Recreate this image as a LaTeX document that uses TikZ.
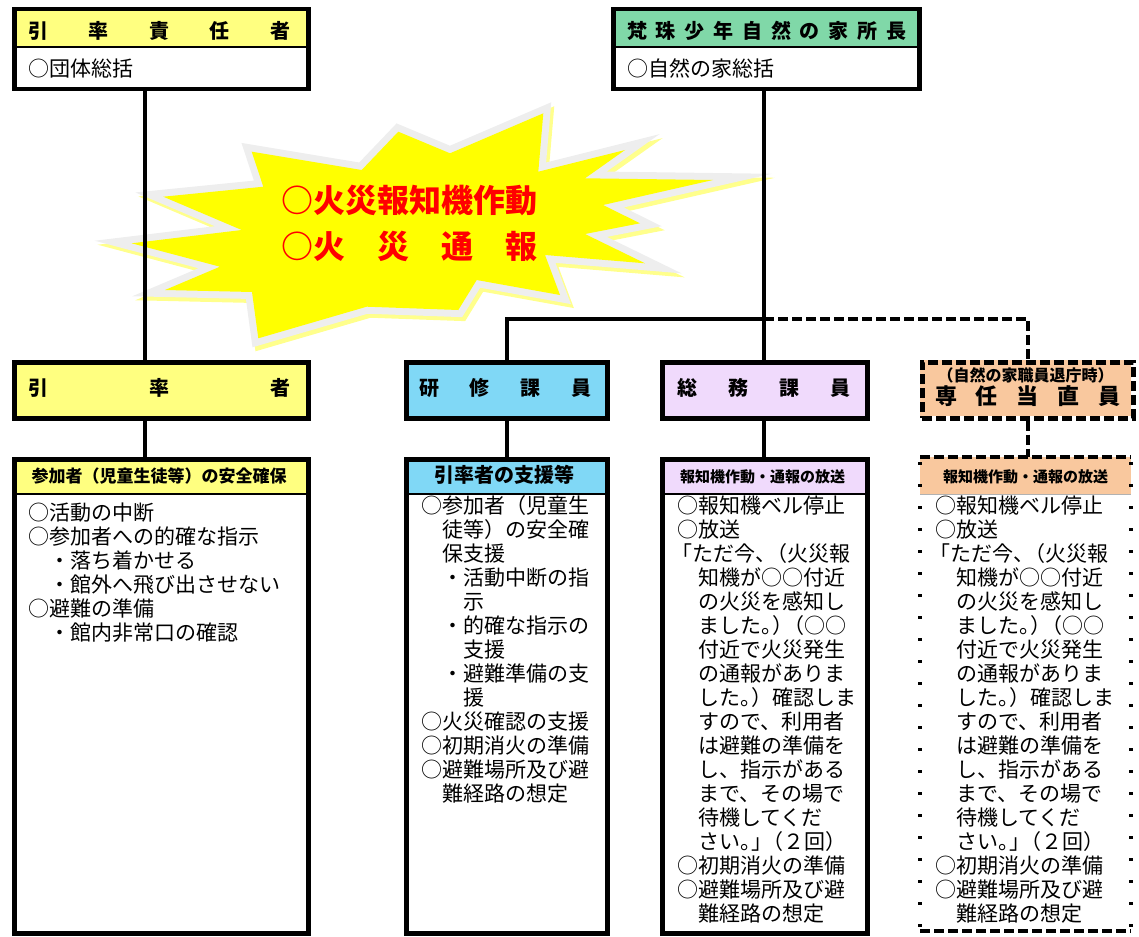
\documentclass[tikz,border=0pt]{standalone}
\usepackage{fontspec}
\setmainfont{Noto Sans CJK JP}
\definecolor{hdyellow}{RGB}{255,255,128}
\definecolor{hdgreen}{RGB}{128,216,168}
\definecolor{hdblue}{RGB}{128,216,246}
\definecolor{hdlav}{RGB}{240,218,252}
\definecolor{hdpeach}{RGB}{249,200,158}
\definecolor{stargray}{RGB}{238,238,238}
\definecolor{staryel}{RGB}{255,255,0}
\definecolor{shadowyel}{RGB}{255,255,140}
\definecolor{firered}{RGB}{255,0,0}
\newcommand{\mybody}[1]{\parbox[t]{300pt}{\raggedright #1}}
\newcommand{\hf}{\hfill{}}
\newcommand{\hk}{\kern-10pt{}}
\tikzset{
  box/.style={draw=black, line width=4.5pt, inner sep=0pt, anchor=north west},
  dbox/.style={draw=black, line width=4.5pt, dash pattern=on 10pt off 4pt, inner sep=0pt, anchor=north west},
  openbox/.style={inner sep=0pt, outer sep=2.25pt, anchor=north west},
  conn/.style={draw=black, line width=4pt, line join=miter},
  dconn/.style={conn, dash pattern=on 10pt off 4pt},
  sep/.style={draw=black, line width=1.2pt},
  lbl/.style={anchor=base west, inner sep=0pt},
  clbl/.style={anchor=base, inner sep=0pt},
  body/.style={anchor=base west, inner sep=0pt, font=\fontsize{21}{24}\selectfont},
  starpts/.style={insert path={(251.7,151.7) -- (361.7,170) -- (398.3,131.7) -- (450,153.3) -- (543.3,113.3) -- (538.3,171.7) -- (625,150) -- (585,178.3) -- (713,180) -- (603,205) -- (640,223.3) -- (585,234) -- (645,263.3) -- (545,255) -- (560,295) -- (476.7,280) -- (458.3,310) -- (366.7,306.7) -- (258.3,338.3) -- (252,292) -- (165,290) -- (220,266.7) -- (131.7,243.3) -- (241.7,230) -- (163.3,196.7) -- (263.3,186.7) -- cycle}},
}
\begin{document}
\begin{tikzpicture}[x=1pt,y=-1pt]
\useasboundingbox (0,0) rectangle (1139,936);
% ---- starburst
\path[draw=shadowyel, fill=shadowyel, line width=14pt, shift={(3,4)}, starpts];
\path[draw=stargray, line width=14pt, line join=miter, starpts];
\path[fill=staryel, starpts];
\node[lbl, font=\fontsize{32}{40}\bfseries, text=firered] (alarm1) at (281.7,212) {○火災報知機作動};
\node[lbl, font=\fontsize{32}{40}\bfseries, text=firered] (alarm2) at (281.7,258.5) {○火　災　通　報};
% ---- header fills
\fill[hdyellow] (12,7) rectangle (306,47);
\fill[hdgreen] (611,7) rectangle (917,47);
\fill[hdyellow] (12,360) rectangle (306,416);
\fill[hdblue] (404,360) rectangle (605,416);
\fill[hdlav] (660,360) rectangle (865,416);
\fill[hdpeach] (920,360) rectangle (1131,416);
\fill[hdyellow] (12,457) rectangle (306,494);
\fill[hdblue] (404,457) rectangle (605,494);
\fill[hdlav] (660,457) rectangle (865,494);
\fill[hdpeach] (920,457) rectangle (1131,494);
% ---- separators
\draw[sep] (12,47) -- (306,47);
\draw[sep] (611,47) -- (917,47);
\draw[sep] (12,494) -- (306,494);
\draw[sep] (404,494) -- (605,494);
\draw[sep] (660,494) -- (865,494);
\draw[draw=gray!60, line width=1pt] (920,494) -- (1131,494);
% ---- boxes
\node[box, minimum width=294pt, minimum height=80pt] (tl) at (12,7) {};
\node[box, minimum width=306pt, minimum height=80pt] (tr) at (611,7) {};
\node[box, minimum width=294pt, minimum height=56pt] (m1) at (12,360) {};
\node[box, minimum width=201pt, minimum height=56pt] (m2) at (404,360) {};
\node[box, minimum width=205pt, minimum height=56pt] (m3) at (660,360) {};
\node[dbox, minimum width=211pt, minimum height=56pt] (m4) at (920,360) {};
\node[box, minimum width=294pt, minimum height=474pt] (b1) at (12,457) {};
\node[box, minimum width=201pt, minimum height=474pt] (b2) at (404,457) {};
\node[box, minimum width=205pt, minimum height=474pt] (b3) at (660,457) {};
\node[openbox, minimum width=211pt, minimum height=474pt] (b4) at (920,457) {};
\draw[line width=4.5pt, dash pattern=on 10pt off 4pt] (920,457) -- (1131,457);
\draw[line width=4.5pt, dash pattern=on 10pt off 4pt] (920,931) -- (1131,931);
\draw[line width=3.5pt, dash pattern=on 3pt off 19pt] (920,462) -- (920,931);
\draw[line width=3.5pt, dash pattern=on 3pt off 19pt] (1131,462) -- (1131,931);
% ---- connectors
\coordinate (xl) at (145,0);
\coordinate (xr) at (764,0);
\coordinate (jn) at (764,318.5);
\draw[conn] (tl.south -| xl) -- (m1.north -| xl);
\draw[conn] (tr.south -| xr) -- (m3.north -| xr);
\draw[conn] (m2.north) |- (jn);
\draw[dconn] (jn) -| (m4.north);
\draw[conn] (m1.south -| xl) -- (b1.north -| xl);
\draw[conn] (m2.south) -- (b2.north);
\draw[conn] (m3.south -| xr) -- (b3.north -| xr);
\draw[dconn] (m4.south) -- (b4.north);
% ---- top texts
\node[lbl, font=\fontsize{20}{24}\bfseries] (tlh) at (28,39) {\makebox[262pt][s]{引\hf 率\hf 責\hf 任\hf 者}};
\node[lbl, font=\fontsize{20}{24}\bfseries] (trh) at (627,39) {\makebox[279pt][s]{梵\hf 珠\hf 少\hf 年\hf 自\hf 然\hf の\hf 家\hf 所\hf 長}};
\node[body] (tlb) at (28,77) {○団体総括};
\node[body] (trb) at (627,77) {○自然の家総括};
% ---- middle texts
\node[lbl, font=\fontsize{20}{24}\bfseries] (m1t) at (28,395) {\makebox[262pt][s]{引\hf 率\hf 者}};
\node[lbl, font=\fontsize{20}{24}\bfseries] (m2t) at (419,395) {\makebox[172pt][s]{研\hf 修\hf 課\hf 員}};
\node[lbl, font=\fontsize{20}{24}\bfseries] (m3t) at (677,395) {\makebox[173pt][s]{総\hf 務\hf 課\hf 員}};
\node[clbl, font=\fontsize{16}{20}\bfseries] (m4a) at (1025.5,381) {（自然の家職員退庁時）};
\node[lbl, font=\fontsize{22}{24}\bfseries] (m4b) at (935,404) {\makebox[185pt][s]{専\hf 任\hf 当\hf 直\hf 員}};
% ---- bottom headers
\node[clbl, font=\fontsize{17}{20}\bfseries] (b1h) at (159,482) {参加者（児童生徒等）の安全確保};
\node[clbl, font=\fontsize{20}{24}\bfseries] (b2h) at (504.5,482) {引率者の支援等};
\node[clbl, font=\fontsize{15}{20}\bfseries] (b3h) at (762.5,482) {報知機作動・通報の放送};
\node[clbl, font=\fontsize{15}{20}\bfseries] (b4h) at (1025.5,482) {報知機作動・通報の放送};
% ---- bodies
\node[body] (b1b) at (28,520) {\mybody{○活動の中断\\
○参加者への的確な指示\\
　・落ち着かせる\\
　・館外へ飛び出させない\\
○避難の準備\\
　・館内非常口の確認}};
\node[body] (b2b) at (421.7,513.5) {\mybody{○参加者（児童生\\
　徒等）の安全確\\
　保支援\\
　・活動中断の指\\
　　示\\
　・的確な指示の\\
　　支援\\
　・避難準備の支\\
　　援\\
○火災確認の支援\\
○初期消火の準備\\
○避難場所及び避\\
　難経路の想定}};
\node[body] (b3b) at (677,513.5) {\mybody{○報知機ベル停止\\
○放送\\
\hspace*{-6pt}「ただ今、\hk（火災報\\
　知機が○○付近\\
　の火災を感知し\\
　ました。\hk）\hk（○○\\
　付近で火災発生\\
　の通報がありま\\
　した。\hk）確認しま\\
　すので、利用者\\
　は避難の準備を\\
　し、指示がある\\
　まで、その場で\\
　待機してくだ\\
　さい。\hk」\hk（２回）\\
○初期消火の準備\\
○避難場所及び避\\
　難経路の想定}};
\node[body] (b4b) at (935,513.5) {\mybody{○報知機ベル停止\\
○放送\\
\hspace*{-6pt}「ただ今、\hk（火災報\\
　知機が○○付近\\
　の火災を感知し\\
　ました。\hk）\hk（○○\\
　付近で火災発生\\
　の通報がありま\\
　した。\hk）確認しま\\
　すので、利用者\\
　は避難の準備を\\
　し、指示がある\\
　まで、その場で\\
　待機してくだ\\
　さい。\hk」\hk（２回）\\
○初期消火の準備\\
○避難場所及び避\\
　難経路の想定}};
\end{tikzpicture}
\end{document}
